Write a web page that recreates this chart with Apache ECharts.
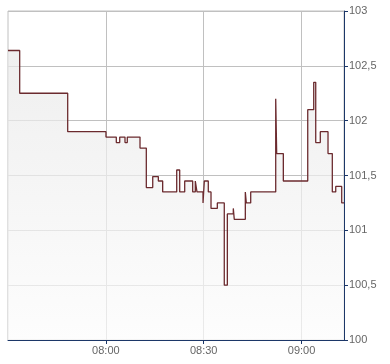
<!DOCTYPE html>
<html>
<head>
<meta charset="utf-8">
<script src="https://cdn.jsdelivr.net/npm/echarts@6/dist/echarts.min.js"></script>
<style>
html,body{margin:0;padding:0;background:#fff;}
#chart{width:390px;height:364px;}
</style>
</head>
<body>
<div id="chart"></div>
<script>
// Start time of each price step (value holds until next time)
var times = ['07:30:00','07:33:35','07:48:18','08:00:02','08:03:12','08:04:15','08:05:52','08:06:34',
  '08:10:28','08:12:24','08:14:22','08:16:05','08:17:25','08:21:43','08:22:38','08:24:10',
  '08:26:37','08:27:25','08:27:56','08:29:47','08:30:11','08:31:24','08:32:14','08:34:10',
  '08:36:18','08:37:14','08:39:04','08:39:22','08:42:45','08:43:03','08:44:24','08:52:04',
  '08:52:22','08:54:24','09:01:53','09:03:43','09:04:20','09:05:44','09:08:06','09:09:25',
  '09:10:28','09:12:18','09:13:00'];
var prices = [102.64,102.25,101.90,101.85,101.80,101.85,101.80,101.85,
  101.75,101.39,101.49,101.45,101.35,101.55,101.35,101.45,
  101.35,101.45,101.35,101.25,101.45,101.35,101.20,101.25,
  100.50,101.15,101.20,101.10,101.35,101.25,101.35,102.20,
  101.70,101.45,102.10,102.35,101.80,101.90,101.70,101.35,
  101.40,101.25,101.25];
var xTickLabels = ['08:00','08:30','09:00'];
var yMin = 100, yMax = 103, yStep = 0.5;
var xStart = '07:30', xEnd = '09:13';

function toMin(s){ var p = s.split(':'); return (+p[0])*60 + (+p[1]) + (p[2] ? (+p[2])/60 : 0); }
function fmtMin(m){ var h = Math.floor(m/60), mm = Math.round(m - h*60); return (h<10?'0':'')+h+':'+(mm<10?'0':'')+mm; }

var data = times.map(function(t,i){ return [toMin(t), prices[i]]; });
var navy = '#1c3768';

var chart = echarts.init(document.getElementById('chart'), null, {renderer:'canvas'});
chart.setOption({
  animation: false,
  backgroundColor: '#fff',
  grid: {left: 8, right: 46, top: 11, bottom: 24, show: true, borderColor: '#c0c0c0', borderWidth: 1, backgroundColor: 'transparent'},
  xAxis: {
    type: 'value',
    min: toMin(xStart), max: toMin(xEnd), interval: 30,
    axisLine: {show: true, lineStyle: {color: navy, width: 1}},
    axisTick: {show: true, length: 4, lineStyle: {color: navy}, customValues: xTickLabels.map(toMin)},
    axisLabel: {color: '#666', fontSize: 11, fontFamily: 'Liberation Sans, Arial, sans-serif', margin: 5,
      customValues: xTickLabels.map(toMin), formatter: function(v){ return fmtMin(v); }},
    splitLine: {show: true, lineStyle: {color: '#c0c0c0', width: 1}}
  },
  yAxis: {
    type: 'value', position: 'right',
    min: yMin, max: yMax, interval: yStep,
    axisLine: {show: true, lineStyle: {color: navy, width: 1}},
    axisTick: {show: true, length: 4, lineStyle: {color: navy}},
    axisLabel: {color: '#666', fontSize: 11, fontFamily: 'Liberation Sans, Arial, sans-serif', margin: 5,
      formatter: function(v){ return String(v).replace('.', ','); }},
    splitLine: {show: true, lineStyle: {color: '#c0c0c0', width: 1}}
  },
  series: [{
    type: 'line',
    step: 'end',
    data: data,
    symbol: 'none',
    lineStyle: {color: '#6b2a2e', width: 1.3},
    areaStyle: {
      origin: 'start',
      color: new echarts.graphic.LinearGradient(0, 0, 0, 1, [
        {offset: 0, color: '#e8e8e8'},
        {offset: 1, color: '#fcfcfc'}
      ])
    }
  }]
});
</script>
</body>
</html>
